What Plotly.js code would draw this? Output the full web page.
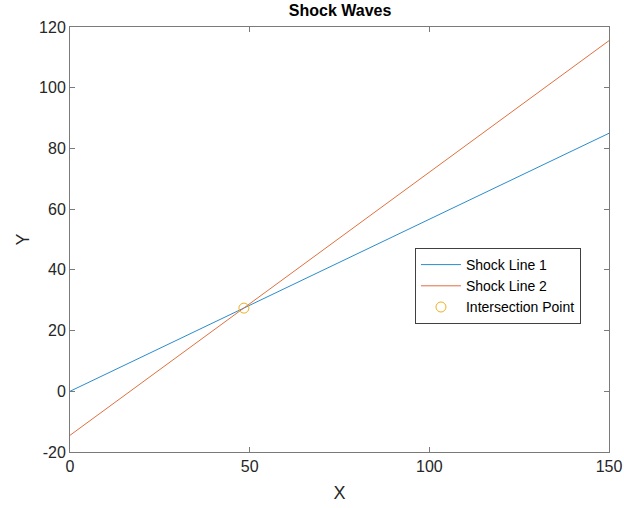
<!DOCTYPE html>
<html>
<head>
<meta charset="utf-8">
<script src="https://cdn.plot.ly/plotly-3.0.1.min.js"></script>
<style>html,body{margin:0;padding:0;background:#fff;}#plot{width:624px;height:508px;}</style>
</head>
<body>
<div id="plot"></div>
<script>
const line1X = [0, 150];
const line1Y = [0, 85.0];
const line2X = [0, 150];
const line2Y = [-14.5, 115.5];
const pointX = [48.4];
const pointY = [27.4];
const xTicks = [0, 50, 100, 150];
const xTickText = ['0', '50', '100', '150'];
const yTicks = [-20, 0, 20, 40, 60, 80, 100, 120];
const yTickText = ['-20', '0', '20', '40', '60', '80', '100', '120'];

const FONT = 'Liberation Sans, Arial, sans-serif';

const traces = [
  {x: line1X, y: line1Y, mode: 'lines', name: 'Shock Line 1', line: {color: '#2a8ccc', width: 1}},
  {x: line2X, y: line2Y, mode: 'lines', name: 'Shock Line 2', line: {color: '#e0703f', width: 1}},
  {x: pointX, y: pointY, mode: 'markers', name: 'Intersection Point',
   marker: {symbol: 'circle-open', size: 10, color: '#EDB120', line: {width: 1, color: '#EDB120'}}}
];

const axisCommon = {
  showgrid: false, zeroline: false, showline: true, linecolor: '#7a7a7a', linewidth: 1,
  mirror: 'ticks', ticks: 'inside', ticklen: 5, tickcolor: '#7a7a7a',
  tickfont: {family: FONT, size: 16, color: '#262626'}
};

const layout = {
  width: 624, height: 508,
  margin: {l: 70, r: 15, t: 27, b: 56},
  paper_bgcolor: '#fff', plot_bgcolor: '#fff',
  title: {text: '<b>Shock Waves</b>', font: {family: FONT, size: 16, color: '#000'},
          x: 0.545, xanchor: 'center', y: 0.99, yanchor: 'top'},
  xaxis: Object.assign({}, axisCommon, {range: [0, 150], tickvals: xTicks, ticktext: xTickText,
    title: {text: 'X', font: {family: FONT, size: 18, color: '#262626'}, standoff: 12}}),
  yaxis: Object.assign({}, axisCommon, {range: [-20, 120], tickvals: yTicks, ticktext: yTickText,
    title: {text: 'Y', font: {family: FONT, size: 18, color: '#262626'}, standoff: 4}}),
  showlegend: true,
  legend: {x: 0.64, y: 0.48, xanchor: 'left', yanchor: 'top', bgcolor: '#fff',
    bordercolor: '#404040', borderwidth: 1,
    font: {family: FONT, size: 14, color: '#000'},
    tracegroupgap: 0, itemwidth: 40}
};

Plotly.newPlot('plot', traces, layout, {displayModeBar: false, staticPlot: true});
</script>
</body>
</html>
